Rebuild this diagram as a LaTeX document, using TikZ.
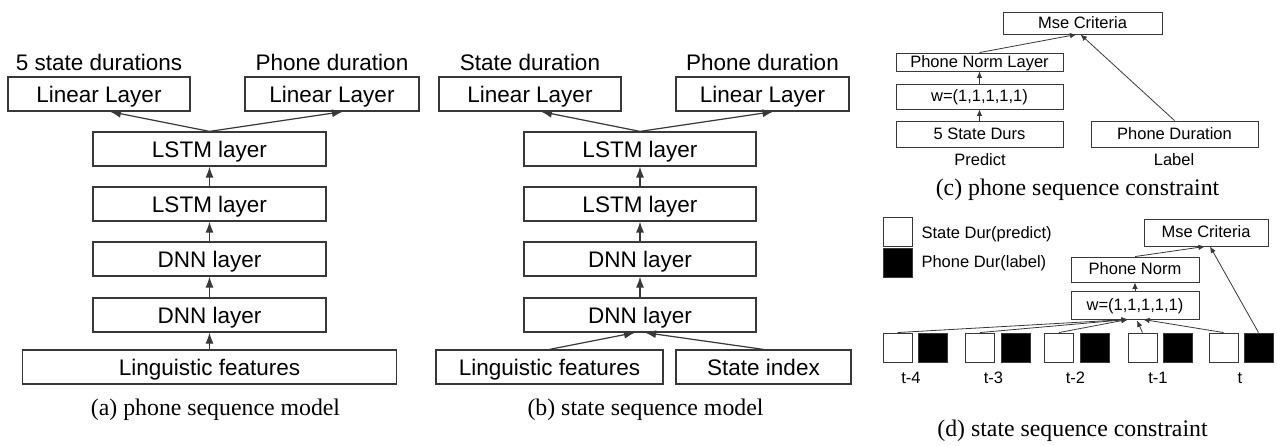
\documentclass[tikz,border=0pt]{standalone}
\usepackage{fontspec}
\setmainfont{Liberation Serif}
\setsansfont{Liberation Sans}
\usetikzlibrary{arrows.meta}
\definecolor{ink}{gray}{0.22}
\tikzset{
  big/.style={font=\sffamily\fontsize{22.5}{26}\selectfont},
  small/.style={font=\sffamily\fontsize{16.5}{19}\selectfont},
  captext/.style={font=\rmfamily\fontsize{23.8}{28}\selectfont},
  bigbox/.style={big, draw=ink, line width=1.2pt, minimum height=34pt, inner sep=0pt,
    text height=17pt, text depth=0pt},
  smallbox/.style={small, draw=ink, line width=0.9pt, inner sep=0pt,
    text height=11pt, text depth=0pt},
  bigarrow/.style={-{Latex[length=11pt,width=8pt]}, draw=ink, line width=1.2pt},
  smallarrow/.style={-{Latex[length=6.5pt,width=5.5pt]}, draw=ink, line width=0.8pt},
  sq/.style={draw=ink, line width=0.9pt, minimum size=29pt, inner sep=0pt},
}
\begin{document}
\begin{tikzpicture}[x=1pt,y=-1pt]
\useasboundingbox (0,0) rectangle (1277,446);

% ---------- (a) phone sequence model ----------
\node[big] (ta1) at (99,62) {5 state durations};
\node[big] (ta2) at (332,62) {Phone duration};
\node[bigbox, minimum width=182pt] (la1) at (99,94) {Linear Layer};
\node[bigbox, minimum width=174pt] (la2) at (332,94) {Linear Layer};
\node[bigbox, minimum width=233pt] (lsa1) at (209.5,149) {LSTM layer};
\node[bigbox, minimum width=233pt] (lsa2) at (209.5,204) {LSTM layer};
\node[bigbox, minimum width=233pt] (dna1) at (209.5,259) {DNN layer};
\node[bigbox, minimum width=233pt] (dna2) at (209.5,315) {DNN layer};
\node[bigbox, minimum width=374pt] (lfa) at (209.5,367) {Linguistic features};
\node[captext] (capa) at (215.5,410) {(a) phone sequence model};
\draw[bigarrow] (lfa.north) -- (dna2.south);
\draw[bigarrow] (dna2.north) -- (dna1.south);
\draw[bigarrow] (dna1.north) -- (lsa2.south);
\draw[bigarrow] (lsa2.north) -- (lsa1.south);
\draw[bigarrow] (lsa1.north) -- ([xshift=11pt]la1.south);
\draw[bigarrow] (lsa1.north) -- ([xshift=11pt]la2.south);

% ---------- (b) state sequence model ----------
\node[big] (tb1) at (530,62) {State duration};
\node[big] (tb2) at (762.5,62) {Phone duration};
\node[bigbox, minimum width=182pt] (lb1) at (530,94) {Linear Layer};
\node[bigbox, minimum width=173pt] (lb2) at (762.5,94) {Linear Layer};
\node[bigbox, minimum width=232pt] (lsb1) at (640,149) {LSTM layer};
\node[bigbox, minimum width=232pt] (lsb2) at (640,204) {LSTM layer};
\node[bigbox, minimum width=232pt] (dnb1) at (640,259) {DNN layer};
\node[bigbox, minimum width=232pt] (dnb2) at (640,315) {DNN layer};
\node[bigbox, minimum width=227pt] (lfb) at (549.5,367) {Linguistic features};
\node[bigbox, minimum width=175pt] (sib) at (763.5,367) {State index};
\node[captext] (capb) at (645.5,410) {(b) state sequence model};
\draw[bigarrow] (lfb.north) -- ([xshift=-5pt]dnb2.south);
\draw[bigarrow] (sib.north) -- ([xshift=5pt]dnb2.south);
\draw[bigarrow] (dnb2.north) -- (dnb1.south);
\draw[bigarrow] (dnb1.north) -- (lsb2.south);
\draw[bigarrow] (lsb2.north) -- (lsb1.south);
\draw[bigarrow] (lsb1.north) -- ([xshift=11pt]lb1.south);
\draw[bigarrow] (lsb1.north) -- ([xshift=11pt]lb2.south);

% ---------- (c) phone sequence constraint ----------
\node[smallbox, minimum width=159pt, minimum height=22pt] (msec) at (1082.5,23) {Mse Criteria};
\node[smallbox, minimum width=167pt, minimum height=18pt] (pnc) at (979.5,62) {Phone Norm Layer};
\node[smallbox, minimum width=167pt, minimum height=25pt] (wc) at (979.5,96.5) {w=(1,1,1,1,1)};
\node[smallbox, minimum width=167pt, minimum height=26pt] (sdc) at (979.5,134) {5 State Durs};
\node[smallbox, minimum width=167pt, minimum height=26pt] (pdc) at (1174.5,134) {Phone Duration};
\node[small] (prc) at (980,160) {Predict};
\node[small] (lbc) at (1174,160) {Label};
\node[captext] (capc) at (1077.5,190) {(c) phone sequence constraint};
\draw[smallarrow] (sdc.north) -- (wc.south);
\draw[smallarrow] (wc.north) -- (pnc.south);
\draw[smallarrow] (pnc.north) -- ([xshift=-6pt]msec.south);
\draw[smallarrow] (pdc.north) -- ([xshift=-2pt]msec.south);

% ---------- (d) state sequence constraint ----------
\node[sq] (lgw) at (897.5,231.5) {};
\node[sq, fill=black] (lgb) at (897.5,262.5) {};
\node[small, anchor=west] (lgwt) at (918,234) {State Dur(predict)};
\node[small, anchor=west] (lgbt) at (918,263) {Phone Dur(label)};
\node[smallbox, minimum width=124pt, minimum height=27pt] (msed) at (1206,232.5) {Mse Criteria};
\node[smallbox, minimum width=128pt, minimum height=25pt] (pnd) at (1135,269.5) {Phone Norm};
\node[smallbox, minimum width=128pt, minimum height=28pt] (wd) at (1135,305) {w=(1,1,1,1,1)};
\node[sq] (w4) at (897.5,347.5) {};
\node[sq, fill=black] (b4) at (932.5,347.5) {};
\node[sq] (w3) at (980,347.5) {};
\node[sq, fill=black] (b3) at (1015.5,347.5) {};
\node[sq] (w2) at (1059,347.5) {};
\node[sq, fill=black] (b2) at (1094.5,347.5) {};
\node[sq] (w1) at (1142.5,347.5) {};
\node[sq, fill=black] (b1) at (1177.5,347.5) {};
\node[sq] (w0) at (1223.5,347.5) {};
\node[sq, fill=black] (b0) at (1258.5,347.5) {};
\node[small] (t4) at (911,378) {t-4};
\node[small] (t3) at (993.5,378) {t-3};
\node[small] (t2) at (1075.5,378) {t-2};
\node[small] (t1) at (1158,378) {t-1};
\node[small] (t0) at (1240,378) {t};
\node[captext] (capd) at (1072.5,431) {(d) state sequence constraint};
\draw[smallarrow] (w4.north) -- ([xshift=-7pt]wd.south);
\draw[smallarrow] (w3.north) -- ([xshift=-7pt]wd.south);
\draw[smallarrow] (w2.north) -- ([xshift=-7pt]wd.south);
\draw[smallarrow] (w1.north) -- ([xshift=2pt,yshift=-1pt]wd.south);
\draw[smallarrow] (w0.north) -- ([xshift=8pt]wd.south);
\draw[smallarrow] (wd.north) -- (pnd.south);
\draw[smallarrow] (pnd.north) -- ([xshift=-1pt]msed.south);
\draw[smallarrow] (b0.north) -- ([xshift=4pt]msed.south);
\end{tikzpicture}
\end{document}
